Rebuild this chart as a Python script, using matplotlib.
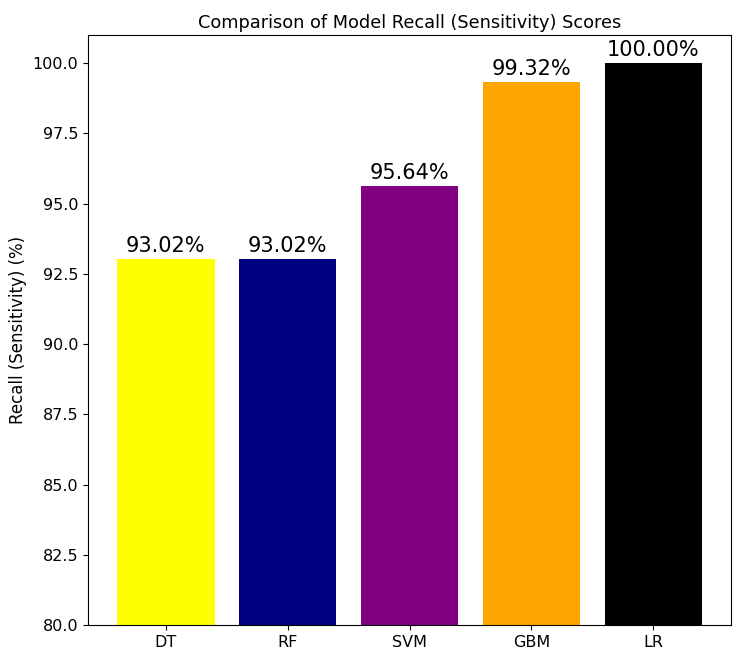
import matplotlib.pyplot as plt

models = ['DT', 'RF', 'SVM', 'GBM', 'LR']
recall = [93.02, 93.02, 95.64, 99.32, 100.00]
colors = ['yellow', 'navy', 'purple', 'orange', 'black']

fig = plt.figure(figsize=(7.44, 6.6), dpi=100)
ax = fig.add_axes([0.118, 0.053, 0.865, 0.894])

bars = ax.bar(models, recall, color=colors, width=0.8)
for rect, val in zip(bars, recall):
    ax.annotate('{:.2f}%'.format(val),
                xy=(rect.get_x() + rect.get_width() / 2, rect.get_height()),
                xytext=(0, 2), textcoords='offset points',
                ha='center', va='bottom', fontsize=15)

ax.set_ylim(80, 101)
ax.set_ylabel('Recall (Sensitivity) (%)', fontsize=12)
ax.set_title('Comparison of Model Recall (Sensitivity) Scores', fontsize=12.8, pad=5)
ax.tick_params(labelsize=11.5)

fig.savefig('out.png', dpi=100)
